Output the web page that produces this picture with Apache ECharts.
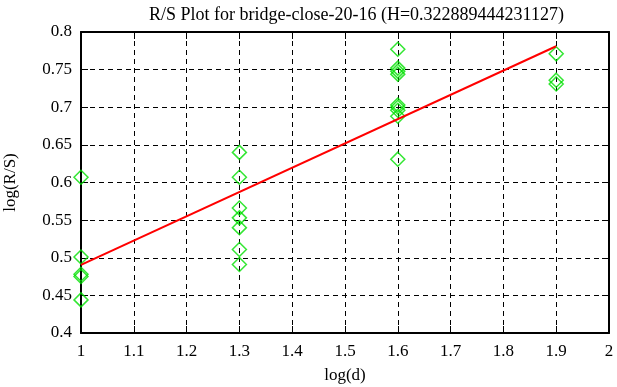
<!DOCTYPE html>
<html>
<head>
<meta charset="utf-8">
<script src="https://cdn.jsdelivr.net/npm/echarts@6/dist/echarts.min.js"></script>
<style>
  html, body { margin: 0; padding: 0; background: #fff; }
  #chart { width: 617px; height: 387px; }
</style>
</head>
<body>
<div id="chart"></div>
<script>
// punkte
const pointX = [1, 1, 1, 1, 1,
    1.3, 1.3, 1.3, 1.3, 1.3, 1.3, 1.3,
    1.6, 1.6, 1.6, 1.6, 1.6, 1.6, 1.6, 1.6, 1.6,
    1.9, 1.9, 1.9]
const pointY = [0.607, 0.501, 0.478, 0.475, 0.444,
    0.640, 0.607, 0.566, 0.553, 0.540, 0.511, 0.491,
    0.777, 0.752, 0.748, 0.744, 0.703, 0.700, 0.696, 0.688, 0.631,
    0.771, 0.736, 0.731]
// regressionsgerade
const fitX = [1, 1.9]
const fitY = [0.4905, 0.7811]
const title = 'R/S Plot for bridge-close-20-16 (H=0.322889444231127)'

const font = 'Liberation Serif'
const chart = echarts.init(document.getElementById('chart'))

const grid = { left: 81, right: 8, top: 32, bottom: 54, outerBoundsMode: 'none', containLabel: false }
const dash = { show: true, lineStyle: { color: '#000', type: [5, 4], width: 1 } }

function axis(extra) {
    return Object.assign({
        type: 'value',
        axisLine: { show: true, onZero: false, lineStyle: { color: '#000', width: 2 } },
        axisTick: { show: true, inside: true, length: 7, lineStyle: { color: '#000', width: 1 } },
        axisLabel: { color: '#000', fontFamily: font, fontSize: 17 },
        splitLine: { show: false }
    }, extra)
}

const option = {
    animation: false,
    backgroundColor: '#fff',
    title: {
        text: title, left: 144, top: 1,
        textStyle: { fontFamily: font, fontSize: 18, fontWeight: 'normal', color: '#000' }
    },
    grid: grid,
    xAxis: [
        axis({ min: 1, max: 2, interval: 0.1, position: 'bottom',
            name: 'log(d)', nameLocation: 'middle', nameGap: 34,
            nameTextStyle: { fontFamily: font, fontSize: 17, color: '#000' },
            axisLabel: { color: '#000', fontFamily: font, fontSize: 17, margin: 10,
                formatter: v => String(Math.round(v * 10) / 10) },
            splitLine: dash }),
        axis({ min: 1, max: 2, interval: 0.1, position: 'top', axisLabel: { show: false } })
    ],
    yAxis: [
        axis({ min: 0.4, max: 0.8, interval: 0.05, position: 'left',
            name: 'log(R/S)', nameLocation: 'middle', nameGap: 62,
            nameTextStyle: { fontFamily: font, fontSize: 17, color: '#000' },
            axisLabel: { color: '#000', fontFamily: font, fontSize: 17, margin: 9,
                formatter: v => String(Math.round(v * 100) / 100) },
            splitLine: dash }),
        axis({ min: 0.4, max: 0.8, interval: 0.05, position: 'right', axisLabel: { show: false } })
    ],
    series: [
        {
            type: 'scatter',
            data: pointX.map((x, i) => [x, pointY[i]]),
            symbol: 'diamond',
            symbolSize: 14,
            itemStyle: { color: 'transparent', borderColor: '#00e000', borderWidth: 1.5 },
            z: 3
        },
        {
            type: 'line',
            data: fitX.map((x, i) => [x, fitY[i]]),
            symbol: 'none',
            lineStyle: { color: '#ff0000', width: 2 },
            z: 4
        }
    ]
}

chart.setOption(option)
</script>
</body>
</html>
